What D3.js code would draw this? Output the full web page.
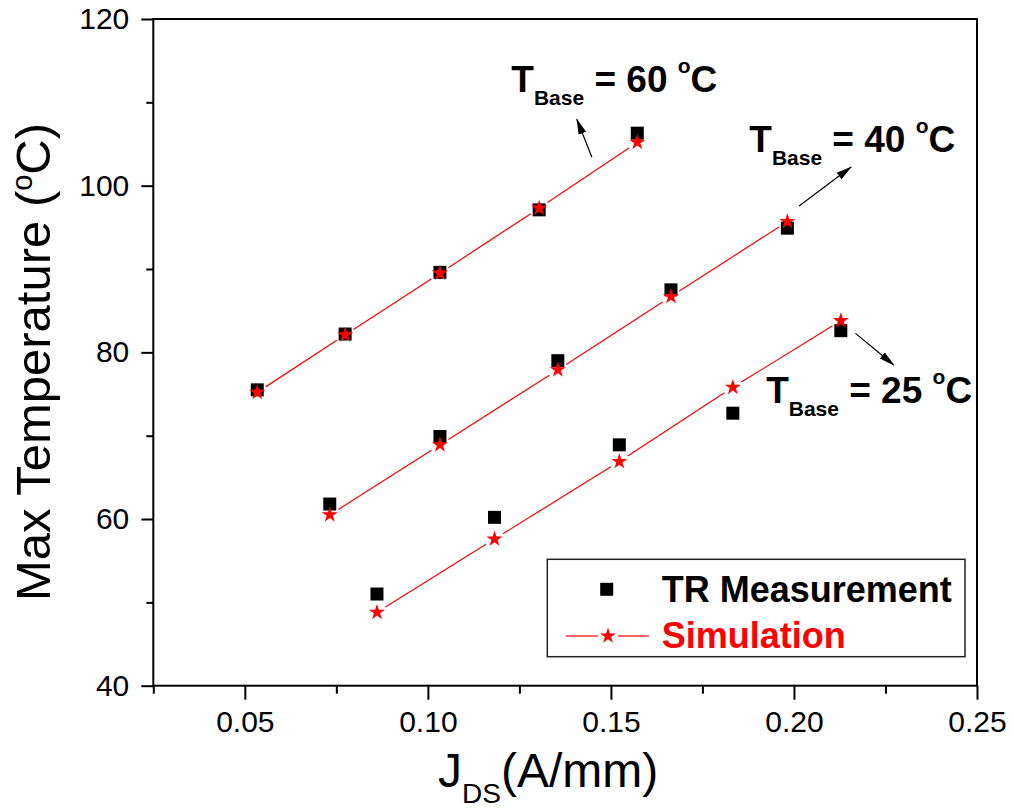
<!DOCTYPE html>
<html>
<head>
<meta charset="utf-8">
<script src="https://cdn.jsdelivr.net/npm/d3@7"></script>
<style>
  body { margin: 0; background: #fff; }
  svg { font-family: "Liberation Sans", Arial, sans-serif; }
</style>
</head>
<body>
<svg id="chart" width="1014" height="809"></svg>
<script>
// Current density J_DS (A/mm) and peak channel temperature (°C) for three base temperatures
const currentJ60   = [0.0534, 0.0774, 0.1033, 0.1304, 0.1572];
const measured60   = [75.5, 82.2, 89.6, 97.1, 106.3];
const simulated60  = [75.2, 82.1, 89.5, 97.3, 105.2];

const currentJ40   = [0.0732, 0.1033, 0.1355, 0.1664, 0.1982];
const measured40   = [61.8, 69.9, 79.0, 87.5, 94.9];
const simulated40  = [60.5, 68.9, 77.9, 86.7, 95.7];

const currentJ25   = [0.0861, 0.1182, 0.1523, 0.1833, 0.2128];
const measured25   = [51.0, 60.2, 68.9, 72.7, 82.6];
const simulated25  = [48.8, 57.6, 66.9, 75.8, 83.8];

const xMajorTicks = [0.05, 0.10, 0.15, 0.20, 0.25];
const xMinorTicks = [0.025, 0.075, 0.125, 0.175, 0.225];
const yMajorTicks = [40, 60, 80, 100, 120];
const yMinorTicks = [50, 70, 90, 110];

const baseTemps = ["60", "40", "25"];
const seriesNames = ["TR Measurement", "Simulation"];

const svg = d3.select("#chart");
const plot = { left: 153.3, right: 977, top: 19, bottom: 685.7 };

const x = d3.scaleLinear().domain([0.025, 0.25]).range([plot.left, plot.right]);
const y = d3.scaleLinear().domain([40, 120]).range([plot.bottom, plot.top]);

// Arrowhead marker
svg.append("defs").append("marker")
  .attr("id", "arrow")
  .attr("viewBox", "0 -5 16 10")
  .attr("refX", 15).attr("refY", 0)
  .attr("markerWidth", 16).attr("markerHeight", 10)
  .attr("markerUnits", "userSpaceOnUse")
  .attr("orient", "auto")
  .append("path").attr("d", "M0,-4L16,0L0,4Z").attr("fill", "#000");

// Axes
const gx = svg.append("g").attr("transform", `translate(0,${plot.bottom})`)
  .call(d3.axisBottom(x).tickValues(xMajorTicks).tickFormat(d3.format(".2f"))
    .tickSize(14).tickPadding(11));
const gxm = svg.append("g").attr("transform", `translate(0,${plot.bottom})`)
  .call(d3.axisBottom(x).tickValues(xMinorTicks).tickFormat("").tickSize(8));
const gy = svg.append("g").attr("transform", `translate(${plot.left},0)`)
  .call(d3.axisLeft(y).tickValues(yMajorTicks).tickSize(12).tickPadding(12));
const gym = svg.append("g").attr("transform", `translate(${plot.left},0)`)
  .call(d3.axisLeft(y).tickValues(yMinorTicks).tickFormat("").tickSize(7));

[gx, gxm, gy, gym].forEach(g => {
  g.select(".domain").remove();
  g.selectAll("line").attr("stroke", "#000").attr("stroke-width", 2);
  g.selectAll("text").attr("fill", "#000")
    .style("font-family", '"Liberation Sans", Arial, sans-serif')
    .style("font-size", "30px");
});

// Frame
svg.append("rect")
  .attr("x", plot.left).attr("y", plot.top)
  .attr("width", plot.right - plot.left).attr("height", plot.bottom - plot.top)
  .attr("fill", "none").attr("stroke", "#000").attr("stroke-width", 2);

// Axis titles
const yTitle = svg.append("text")
  .attr("transform", "translate(50,362) rotate(-90)")
  .attr("text-anchor", "middle")
  .style("font-size", "49px").attr("fill", "#000");
yTitle.append("tspan").text("Max Temperature (");
yTitle.append("tspan").attr("dy", -18).style("font-size", "29px").text("o");
yTitle.append("tspan").attr("dy", 18).text("C)");

const xTitle = svg.append("text")
  .attr("x", 438).attr("y", 787)
  .style("font-size", "48px").attr("fill", "#000");
xTitle.append("tspan").text("J");
xTitle.append("tspan").attr("dy", 16).style("font-size", "28px").text("DS");
xTitle.append("tspan").attr("dy", -16).text("(A/mm)");

// Series
const series = [
  { j: currentJ60, meas: measured60, sim: simulated60 },
  { j: currentJ40, meas: measured40, sim: simulated40 },
  { j: currentJ25, meas: measured25, sim: simulated25 }
];

const starPath = d3.symbol().type(d3.symbolStar).size(80)();
const squarePath = d3.symbol().type(d3.symbolSquare).size(169)();
const gap = 10;

series.forEach(s => {
  const pts = s.j.map((j, i) => [x(j), y(s.sim[i])]);
  // Simulation line, broken around each star marker
  const segs = d3.pairs(pts).map(([a, b]) => {
    const dx = b[0] - a[0], dy = b[1] - a[1];
    const L = Math.hypot(dx, dy);
    const ux = dx / L, uy = dy / L;
    return [[a[0] + ux * gap, a[1] + uy * gap], [b[0] - ux * gap, b[1] - uy * gap]];
  });
  svg.append("g").selectAll("line").data(segs).join("line")
    .attr("x1", d => d[0][0]).attr("y1", d => d[0][1])
    .attr("x2", d => d[1][0]).attr("y2", d => d[1][1])
    .attr("stroke", "#ff0000").attr("stroke-width", 1.2);

  // Measured squares
  svg.append("g").selectAll("path").data(s.j).join("path")
    .attr("d", squarePath)
    .attr("transform", (j, i) => `translate(${x(j)},${y(s.meas[i])})`)
    .attr("fill", "#000");

  // Simulated stars
  svg.append("g").selectAll("path").data(s.j).join("path")
    .attr("d", starPath)
    .attr("transform", (j, i) => `translate(${x(j)},${y(s.sim[i])})`)
    .attr("fill", "#ff0000");
});

// Base-temperature annotations with arrows (positions in data units)
const annotations = [
  { label: baseTemps[0], at: [0.1228, 111.28], from: [0.1448, 103.4], to: [0.1407, 107.96] },
  { label: baseTemps[1], at: [0.1878, 104.08], from: [0.2014, 97.56], to: [0.2156, 102.24] },
  { label: baseTemps[2], at: [0.1924, 73.95], from: [0.2168, 82.28], to: [0.2273, 78.48] }
];

annotations.forEach(a => {
  svg.append("line")
    .attr("x1", x(a.from[0])).attr("y1", y(a.from[1]))
    .attr("x2", x(a.to[0])).attr("y2", y(a.to[1]))
    .attr("stroke", "#000").attr("stroke-width", 1.2)
    .attr("marker-end", "url(#arrow)");

  const t = svg.append("text")
    .attr("x", x(a.at[0])).attr("y", y(a.at[1]))
    .style("font-size", "37px").style("font-weight", "bold").attr("fill", "#000");
  t.append("tspan").text("T");
  t.append("tspan").attr("dy", 13).style("font-size", "21px").text("Base");
  t.append("tspan").attr("dy", -13).text(` = ${a.label} `);
  t.append("tspan").attr("dy", -19).style("font-size", "21px").text("o");
  t.append("tspan").attr("dy", 19).text("C");
});

// Legend
const legend = svg.append("g");
legend.append("rect")
  .attr("x", 547.3).attr("y", 559.3).attr("width", 417.7).attr("height", 97.4)
  .attr("fill", "#fff").attr("stroke", "#222").attr("stroke-width", 1.5);
legend.append("path").attr("d", squarePath)
  .attr("transform", "translate(606.7,589.3)").attr("fill", "#000");
legend.append("text").attr("x", 661.7).attr("y", 601.7)
  .style("font-size", "36px").style("font-weight", "bold").attr("fill", "#000")
  .text(seriesNames[0]);
legend.append("line").attr("x1", 566).attr("x2", 598).attr("y1", 636).attr("y2", 636)
  .attr("stroke", "#ff0000").attr("stroke-width", 1.2);
legend.append("line").attr("x1", 618).attr("x2", 649).attr("y1", 636).attr("y2", 636)
  .attr("stroke", "#ff0000").attr("stroke-width", 1.2);
legend.append("path").attr("d", starPath)
  .attr("transform", "translate(608,636)").attr("fill", "#ff0000");
legend.append("text").attr("x", 661.7).attr("y", 648.3)
  .style("font-size", "36px").style("font-weight", "bold").attr("fill", "#ff0000")
  .text(seriesNames[1]);
</script>
</body>
</html>
